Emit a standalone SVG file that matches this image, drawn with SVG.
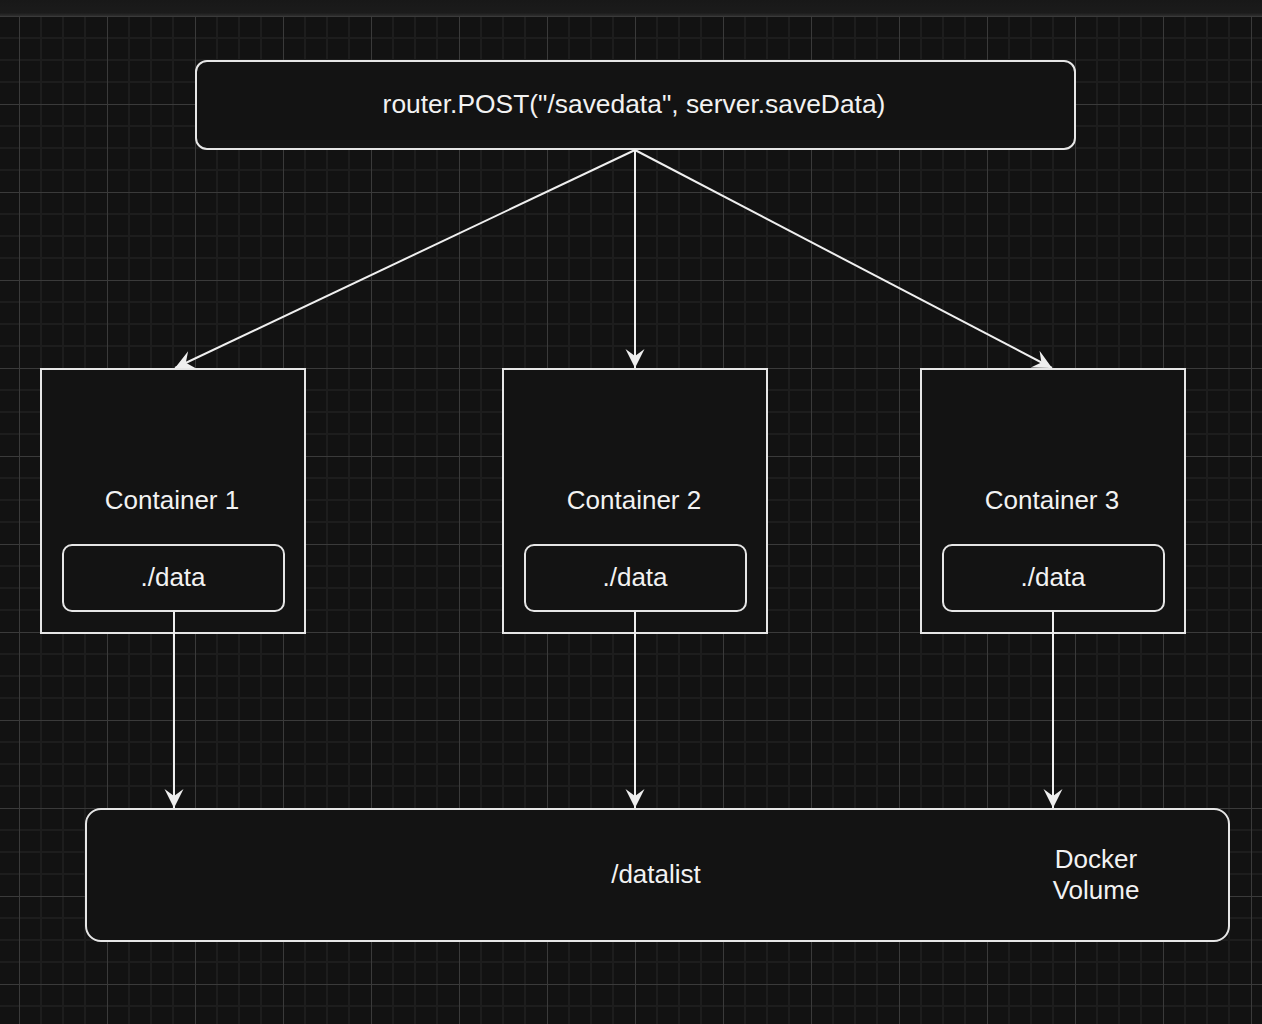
<svg xmlns="http://www.w3.org/2000/svg" width="1262" height="1024" viewBox="0 0 1262 1024">
  <defs>
    <pattern id="grid" x="19" y="16" width="88" height="88" patternUnits="userSpaceOnUse">
      <rect width="88" height="88" fill="#121212"/>
      <path d="M22,0V88M44,0V88M66,0V88M0,22H88M0,44H88M0,66H88" stroke="#1d1d1d" stroke-width="2" fill="none"/>
      <path d="M0.5,0V88M0,0.5H88" stroke="#3a3a3a" stroke-width="1" fill="none"/>
    </pattern>
    <linearGradient id="topbar" x1="0" y1="0" x2="0" y2="1">
      <stop offset="0" stop-color="#181818"/>
      <stop offset="0.8" stop-color="#1b1b1b"/>
      <stop offset="1" stop-color="#2e2e2e"/>
    </linearGradient>
    <marker id="arrow" markerUnits="userSpaceOnUse" markerWidth="24" markerHeight="24" viewBox="-22 -12 24 24" refX="0" refY="0" orient="auto">
      <path d="M0,0 L-19,-9.5 L-12,0 L-19,9.5 Z" fill="#efefef"/>
    </marker>
    <style>
      .box { fill: #131313; stroke: #e6e6e6; stroke-width: 2; }
      .lbl { font-family: "Liberation Sans", Arial, Helvetica, sans-serif; font-size: 26px; fill: #f2f2f2; text-anchor: middle; dominant-baseline: central; }
      .edge { stroke: #efefef; stroke-width: 2; fill: none; marker-end: url(#arrow); }
    </style>
  </defs>

  <rect width="1262" height="1024" fill="url(#grid)"/>
  <rect width="1262" height="16" fill="url(#topbar)"/>

  <g id="router">
    <rect class="box" x="196" y="61" width="879" height="88" rx="11"/>
    <text class="lbl" x="634" y="104" style="font-size:26.4px">router.POST("/savedata", server.saveData)</text>
  </g>

  <g id="container1">
    <rect class="box" x="41" y="369" width="264" height="264"/>
    <text class="lbl" x="172" y="500">Container 1</text>
  </g>
  <g id="data1">
    <rect class="box" x="63" y="545" width="221" height="66" rx="9"/>
    <text class="lbl" x="173" y="577">./data</text>
  </g>

  <g id="container2">
    <rect class="box" x="503" y="369" width="264" height="264"/>
    <text class="lbl" x="634" y="500">Container 2</text>
  </g>
  <g id="data2">
    <rect class="box" x="525" y="545" width="221" height="66" rx="9"/>
    <text class="lbl" x="635" y="577">./data</text>
  </g>

  <g id="container3">
    <rect class="box" x="921" y="369" width="264" height="264"/>
    <text class="lbl" x="1052" y="500">Container 3</text>
  </g>
  <g id="data3">
    <rect class="box" x="943" y="545" width="221" height="66" rx="9"/>
    <text class="lbl" x="1053" y="577">./data</text>
  </g>

  <g id="volume">
    <rect class="box" x="86" y="809" width="1143" height="132" rx="15"/>
    <text class="lbl" x="656" y="874">/datalist</text>
    <text class="lbl" x="1096" y="859">Docker</text>
    <text class="lbl" x="1096" y="890">Volume</text>
  </g>

  <g id="connectors">
    <line class="edge" x1="635" y1="150" x2="175" y2="368"/>
    <line class="edge" x1="635" y1="150" x2="635" y2="368"/>
    <line class="edge" x1="635" y1="150" x2="1052" y2="368"/>
    <line class="edge" x1="174" y1="612" x2="174" y2="808"/>
    <line class="edge" x1="635" y1="612" x2="635" y2="808"/>
    <line class="edge" x1="1053" y1="612" x2="1053" y2="808"/>
  </g>
</svg>
